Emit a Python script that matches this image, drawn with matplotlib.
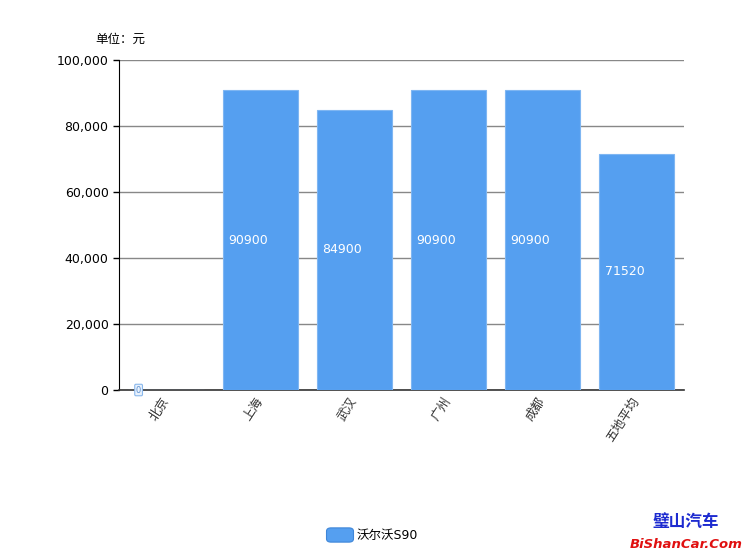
import matplotlib
matplotlib.use("Agg")
import matplotlib.pyplot as plt
from matplotlib.ticker import FuncFormatter
from matplotlib.patches import FancyBboxPatch

plt.rcParams['font.family'] = ['DejaVu Sans', 'Noto Sans CJK SC']

cities = ['北京', '上海', '武汉', '广州', '成都', '五地平均']
prices = [0, 90900, 84900, 90900, 90900, 71520]
series_name = '沃尔沃S90'
bar_color = '#559ff0'

fig = plt.figure(figsize=(7.44, 5.57), dpi=100)
ax = fig.add_axes([0.16, 0.2998, 0.759, 0.5925])

x = range(len(cities))
bars = ax.bar(x, prices, width=0.8, color=bar_color, edgecolor='#7fb6f2', linewidth=0.8, zorder=3)

ax.set_xlim(-0.5, len(cities) - 0.5)
ax.set_ylim(0, 100000)
ax.set_yticks(range(0, 100001, 20000))
ax.yaxis.set_major_formatter(FuncFormatter(lambda v, p: f'{int(v):,}'))
ax.grid(axis='y', color='#888888', linewidth=1, zorder=1)
ax.tick_params(axis='y', labelsize=9, length=4, width=1, colors='black')
ax.tick_params(axis='x', length=0)
ax.set_xticks(list(x))
ax.set_xticklabels(cities, rotation=57, ha='right', va='center',
                   rotation_mode='anchor', fontsize=9, color='#333333')
for lbl in ax.get_xticklabels():
    lbl.set_y(-0.012)

for s in ['top', 'right']:
    ax.spines[s].set_visible(False)
ax.spines['left'].set_color('black')
ax.spines['bottom'].set_color('#333333')
ax.spines['bottom'].set_linewidth(1.2)

# value labels
for b, v in zip(bars, prices):
    if v == 0:
        ax.text(b.get_x() + 0.08, 0, str(v), ha='left', va='center', fontsize=6,
                color='#5a8fd0',
                bbox=dict(boxstyle='round,pad=0.15', fc='#e8f1fc', ec='#8ab8ec', lw=0.8),
                zorder=5)
    else:
        ax.text(b.get_x() + 0.06, v / 2, str(v), ha='left', va='center',
                fontsize=9, color='white', zorder=5)

fig.text(0.128, 0.930, '单位：元', fontsize=9, ha='left', va='center')

# legend
fig.patches.append(FancyBboxPatch((328 / 744, 1 - 541 / 557), 24 / 744, 12 / 557,
                                  boxstyle='round,pad=0.002,rounding_size=0.006',
                                  fc=bar_color, ec='#3f86d8', lw=0.8,
                                  transform=fig.transFigure, figure=fig))
fig.text(357 / 744, 1 - 535 / 557, series_name, fontsize=9, ha='left', va='center')

# watermark
fig.text(686 / 744, 1 - 522 / 557, '璧山汽车', fontsize=12, fontweight='bold',
         color='#1d2bd0', ha='center', va='center')
fig.text(686 / 744, 1 - 544 / 557, 'BiShanCar.Com', fontsize=9.5, fontweight='bold',
         style='italic', color='#e01010', ha='center', va='center')

fig.savefig('out.png', dpi=100)
